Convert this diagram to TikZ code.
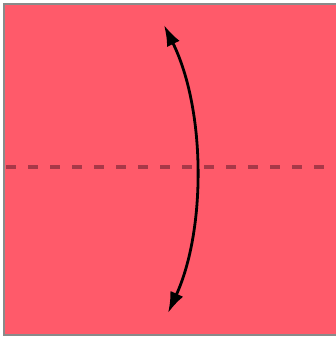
\documentclass[tikz,border=0pt]{standalone}
\usepackage{tikz}
\usetikzlibrary{arrows.meta}
\definecolor{paper}{HTML}{FF5A6A}
\definecolor{edgegray}{HTML}{8A8A8A}
\definecolor{foldred}{HTML}{A83848}
\tikzset{
  >=Latex,
  sheet/.style={fill=paper,draw=edgegray,line width=2.4pt},
  valley/.style={foldred,line width=3.4pt,dash pattern=on 10pt off 12pt},
  flip/.style={<->,line width=2.8pt,>={Latex[length=21pt,width=14pt]}},
}
\begin{document}
\begin{tikzpicture}[x=1pt,y=-1pt]
  \useasboundingbox (0,0) rectangle (335,340);
  % paper square
  \draw[sheet] (4,4) rectangle (338,335);
  % fold line
  \coordinate (L) at (6,167);
  \coordinate (R) at (335,167);
  \draw[valley] (L) -- (R);
  % fold over arrow
  \coordinate (top) at (164,25);
  \coordinate (bot) at (168,313);
  \draw[flip] (top) .. controls (206,110) and (206,230) .. (bot);
\end{tikzpicture}
\end{document}
